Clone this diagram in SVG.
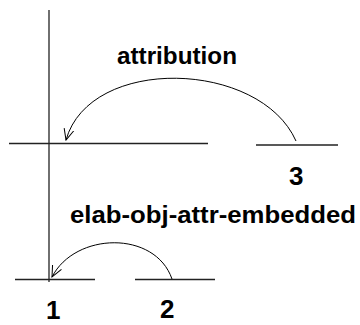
<svg xmlns="http://www.w3.org/2000/svg" width="360" height="325" viewBox="0 0 360 325">
<style>
.ln{stroke:#222;stroke-width:1.3;fill:none}
.arc{stroke:#000;stroke-width:1;fill:none}
.lbl{font-family:"Liberation Sans",Arial,sans-serif;font-weight:bold;font-size:24px;fill:#000}
.num{font-family:"Liberation Sans",Arial,sans-serif;font-weight:bold;font-size:26px;fill:#000}
</style>
<defs>
<marker id="ah" viewBox="0 0 12 12" refX="11" refY="6" markerWidth="12" markerHeight="12" markerUnits="userSpaceOnUse" orient="auto">
<path d="M0,1 L11,6 L0,11" fill="none" stroke="#000" stroke-width="1"/>
</marker>
</defs>
<rect width="360" height="325" fill="#fff"/>
<g id="axis">
<line class="ln" x1="49" y1="10" x2="49" y2="282"/>
</g>
<g id="node-top">
<line class="ln" x1="9" y1="143.5" x2="208" y2="143.5"/>
</g>
<g id="node-3">
<line class="ln" x1="256" y1="145" x2="338" y2="145"/>
<text class="num" x="289" y="185">3</text>
</g>
<g id="node-1">
<line class="ln" x1="15" y1="279.5" x2="95" y2="279.5"/>
<text class="num" x="46" y="319">1</text>
</g>
<g id="node-2">
<line class="ln" x1="135" y1="279.5" x2="215" y2="279.5"/>
<text class="num" x="160" y="318">2</text>
</g>
<g id="connectors">
<path class="arc" d="M296,141 C260,60 90,55 66,140" marker-end="url(#ah)"/>
<text class="lbl" x="117" y="64" textLength="120" lengthAdjust="spacingAndGlyphs">attribution</text>
<path class="arc" d="M172,279 C155,230 75,232 52,277" marker-end="url(#ah)"/>
<text class="lbl" x="70" y="223" textLength="286" lengthAdjust="spacingAndGlyphs">elab-obj-attr-embedded</text>
</g>
</svg>
